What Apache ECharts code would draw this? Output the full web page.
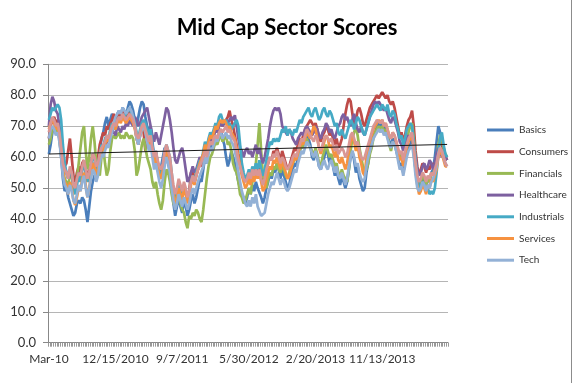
<!DOCTYPE html>
<html><head><meta charset="utf-8">
<script src="https://cdn.jsdelivr.net/npm/echarts@6/dist/echarts.min.js"></script>
<style>html,body{margin:0;padding:0;background:#fff}#c{width:574px;height:383px}</style>
</head><body><div id="c"></div>
<script>
// ---- data ----
const titleText = 'Mid Cap Sector Scores';
const firstLabel = 'Mar-10';
const startDate = [2010, 3, 24]; // weekly observations
const labelEvery = 38;           // a date label every 38 weeks
const yTicks = [0, 10, 20, 30, 40, 50, 60, 70, 80, 90];
const legendNames = ['Basics','Consumers','Financials','Healthcare','Industrials','Services','Tech'];
const trendValues = [61.0, 64.1]; // linear trendline at first / last week

const basics = [
61,64,68,70,69,70,66,60,53,49, 50,47,45,43,41,42,45,46,45,47,
46,43,39,44,49,52,54,55,57,62, 66,68,71,73,70,72,74,73,71,74,
75,73,76,75,73,76,78,77,75,72, 70,73,76,78,77,73,70,68,70,65,
60,62,58,55,57,60,63,62,58,55, 50,45,41,44,47,44,42,46,44,41,
43,46,48,45,47,50,53,52,56,60, 58,62,64,63,65,67,66,68,69,66,
64,60,57,59,62,60,58,55,52,50, 48,47,45,47,50,48,51,49,52,50,
50,47,45,47,50,52,55,53,56,55, 58,56,53,56,54,52,50,51,54,56,
58,57,60,62,64,63,66,68,66,64, 60,59,62,60,57,56,58,60,63,61,
58,60,57,54,56,53,51,54,52,50, 52,56,60,62,59,55,57,53,51,49,
50,55,58,62,65,67,68,70,71,70, 72,69,70,68,65,64,66,65,62,60,
57,58,55,58,62,63,64,66,61,56, 52,50,51,53,52,50,53,52,55,56,
60,65,70,68,65,62,60,59];
const consumers = [
66,70,72,73,71,72,69,64,60,57, 58,62,66,60,54,52,55,57,55,58,
59,56,53,56,58,61,60,58,60,64, 66,68,67,70,69,71,72,74,72,73,
74,73,75,74,73,74,75,74,72,70, 66,64,67,70,68,62,65,64,66,62,
59,61,58,55,54,57,61,63,61,58, 53,49,46,48,51,49,47,51,49,46,
49,55,56,52,54,56,58,57,60,63, 61,64,66,65,67,69,68,70,71,70,
71,72,73,75,72,70,67,64,61,59, 56,54,52,53,55,53,56,54,57,55,
58,54,51,53,56,58,60,59,62,61, 63,61,59,62,60,58,56,57,59,61,
63,62,64,66,65,67,69,70,71,72, 72,70,71,69,66,65,67,68,70,69,
67,68,66,64,66,63,64,66,70,74, 77,79,78,74,70,72,75,76,74,71,
70,72,74,76,77,78,79,80,79,80, 81,80,79,80,78,77,78,76,73,70,
67,68,65,67,70,72,73,75,70,62, 57,54,56,58,57,55,57,56,58,57,
58,60,63,65,64,62,60,59];
const financials = [
64,66,69,70,68,69,66,61,56,53, 52,50,55,54,50,48,53,58,63,68,
70,62,56,60,66,70,65,58,56,54, 60,63,58,54,56,62,66,67,66,67,
68,66,67,66,68,67,66,67,66,62, 54,56,60,64,66,63,60,58,56,52,
50,52,48,45,43,46,52,56,55,52, 48,45,44,46,48,45,43,42,39,37,
41,40,42,41,43,42,40,39,43,48, 53,57,60,61,63,65,64,66,67,65,
66,67,64,65,62,58,56,55,52,48, 47,45,46,48,50,48,52,55,58,64,
71,62,54,52,50,53,55,54,57,56, 58,56,55,57,56,54,53,55,57,58,
59,61,60,62,64,63,65,66,64,63, 62,60,63,61,58,57,60,62,64,62,
60,61,59,57,58,55,54,56,54,53, 52,56,62,66,68,70,67,63,60,57,
55,56,58,61,63,66,68,69,70,69, 70,68,69,67,64,62,65,64,63,61,
60,61,58,61,64,68,70,71,66,59, 54,51,52,54,53,51,53,52,55,54,
57,60,64,67,66,63,61,60];
const healthcare = [
70,77,79.5,78,75,74,70,65,60,57, 55,53,56,54,51,50,53,55,53,56,
58,55,52,54,56,58,57,55,58,60, 62,64,63,65,66,67,69,68,67,70,
69,68,70,69,71,70,72,71,70,73, 72,70,71,73,74,75,76,73,70,67,
65,68,66,64,67,70,73,76,75,72, 68,63,59,58,60,62,63,60,56,52,
53,55,57,55,56,58,60,59,61,63, 62,64,66,65,67,69,68,70,71,70,
71,72,71,72,73,72,73.5,70,66,63, 62,60,62,63,61,62,60,62,64,61,
63,60,58,60,63,66,70,73,75,76, 75,76,74,70,69,68,67,69,68,66,
65,64,66,67,68,67,69,70,69,68, 67,68,70,69,67,66,68,69,71,70,
68,69,67,66,68,70,71,73,74,72, 73,71,70,72,74,71,69,68,70,68,
67,69,71,73,75,77,78,77,78,77, 76,75,76,74,72,71,73,72,70,68,
65,64,62,64,66,67,66,68,64,60, 56,54,55,57,58,56,57,59,58,56,
58,61,63,62,60,62,60,59];
const industrials = [
72,74,76,75,76,77,76,72,64,58, 55,53,56,55,50,48,51,54,52,56,
58,55,52,54,57,61,59,56,57,61, 64,63,66,67,66,69,71,70,69,72,
73,72,74,73,74,75,76,74,73,71, 68,66,69,71,72,71,69,67,69,64,
60,62,58,55,54,57,62,64,62,60, 55,49,46,48,51,49,47,51,49,46,
48,52,54,52,55,57,59,58,62,65, 63,66,68,67,69,71,70,73,74,72,
71,72,70,71,69,70,71,72,70,64, 58,55,53,54,56,54,57,55,58,56,
59,56,54,56,59,62,65,64,66,65, 66,65,67,69,68,70,67,69,68,67,
69,68,70,72,71,73,74,75,76,74, 73,75,76,74,72,73,75,76,74,73,
75,74,72,70,71,68,67,69,67,66, 68,70,72,71,69,71,73,72,70,68,
67,69,71,73,74,75,76,77,76,75, 77,76,75,77,74,73,75,74,71,69,
66,67,64,66,69,70,71,70,65,59, 54,51,50,52,51,49,50,48,49,48,
50,55,61,66,68,64,61,60];
const services = [
69,71,72,71,69,70,67,62,56,52, 51,48,52,50,46,44.5,47,50,49,53,
55,51,47,50,54,58,57,54,56,60, 63,62,64,66,65,67,69,70,69,71,
72,71,73,72,71,72,73,72,71,69, 66,64,67,69,70,68,66,64,66,62,
58,60,57,54,53,56,60,62,60,58, 53,48,45,47,50,48,46,50,48,45,
47,51,53,51,54,56,58,58,61,64, 62,65,67,66,68,70,69,71,72,71,
72,71,69,70,68,67,66,63,60,57, 54,52,50,51,53,51,54,52,55,53,
55,52,49,50,53,55,57,56,59,58, 60,58,56,59,57,55,53,54,56,58,
60,59,61,63,65,64,66,68,67,66, 68,70,69,66,63,61,63,65,67,66,
63,64,62,60,62,59,58,60,58,56, 58,62,65,67,65,62,64,60,58,55,
54,60,63,65,67,69,70,71,72,71, 72,70,71,69,67,66,68,67,65,62,
59,60,57,60,63,65,66,67,62,56, 51,48,49,51,50,48,51,50,53,52,
54,56,60,62,61,59,57,57];
const tech = [
66,69,70,69,67,68,65,60,54,51, 50,48,51,49,46,45,48,51,49,52,
54,50,47,50,53,56,55,52,54,58, 61,60,62,64,63,66,68,71,73,74,
75,74,76,75,74,75,76,75,73,70, 66,64,67,69,70,68,65,62,64,60,
56,58,55,52,50,53,57,60,58,55, 50,46,43,45,48,46,44,47,45,43,
45,48,50,48,50,52,54,54,57,60, 58,61,63,62,64,66,65,67,68,66,
67,68,66,67,65,64,62,59,55,52, 49,47,45,44,46,44,47,45,48,44,
44,41,41,42,45,48,50,52,51,53, 55,53,51,53,52,50,49,50,52,54,
56,55,58,60,62,61,63,65,64,63, 61,60,62,60,57,56,58,59,57,56,
58,59,57,55,57,54,53,55,53,51, 53,57,60,62,60,57,58,55,53,52,
53,57,60,62,64,66,67,68,69,68, 69,67,68,66,64,63,65,64,62,59,
56,57,54,57,60,62,63,64,60,54, 50,49,50,52,51,49,51,50,52,53,
55,57,61,63,62,60,58,57];
const midCap = [ // 8th (unlabelled) series
68,71,73,72,70,71,68,63,58,56, 55,53,57,55,51,50,53,55,54,57,
59,56,53,55,58,61,60,57,58,61, 63,63,65,67,66,68,70,71,70,72,
73,72,74,73,72,73,74,73,72,70, 67,66,68,70,71,69,67,65,67,63,
60,62,59,57,56,58,62,64,62,60, 55,51,48,50,53,51,49,52,50,47,
49,52,54,52,54,56,57,57,60,62, 60,63,65,64,66,67,66,68,69,68,
69,70,68,69,67,66,65,62,59,57, 55,53,52,53,55,53,56,54,56,54,
56,53,51,53,56,58,60,59,61,60, 62,60,58,60,59,57,56,57,58,60,
61,60,62,64,66,65,67,69,68,67, 66,65,67,66,63,62,64,66,67,66,
65,66,64,62,64,61,61,63,62,60, 61,64,67,68,66,64,65,62,60,59,
60,62,64,66,68,70,71,72,72,71, 72,70,71,69,67,66,68,67,65,63,
61,62,59,62,64,66,67,68,63,58, 54,52,53,55,54,52,54,53,55,54,
56,58,61,63,62,60,58,57];

// ---- build ----
const N = basics.length;
const categories = [];
for (let i = 0; i < N; i++) {
  const d = new Date(Date.UTC(startDate[0], startDate[1] - 1, startDate[2] + 7 * i));
  categories.push(i === 0 ? firstLabel : (d.getUTCMonth() + 1) + '/' + d.getUTCDate() + '/' + d.getUTCFullYear());
}
const colors = ['#4A7EBB','#BE4B48','#98B954','#7D60A0','#46AAC5','#F69240','#93B1D6','#D99694'];
const allData = [basics, consumers, financials, healthcare, industrials, services, tech, midCap];
const names = legendNames.concat(['Mid Cap']);
const FONT = 'Lato, "Open Sans", sans-serif';

const series = allData.map((d, k) => ({
  name: names[k], type: 'line', data: d, symbol: 'none', smooth: false,
  lineStyle: { width: 2.7, color: colors[k] }, itemStyle: { color: colors[k] },
  silent: true, animation: false
}));
series.push({
  name: 'trend', type: 'line', symbol: 'none', silent: true, animation: false, z: 5,
  data: [[0, trendValues[0]], [N - 1, trendValues[1]]],
  lineStyle: { width: 1, color: '#1a1a1a' }
});

const chart = echarts.init(document.getElementById('c'), null, { renderer: 'canvas' });
chart.setOption({
  animation: false,
  backgroundColor: '#fff',
  color: colors,
  title: { text: titleText, left: 'center', top: 12,
    textStyle: { fontFamily: FONT, fontSize: 22, fontWeight: 'bold', color: '#000' } },
  legend: {
    data: legendNames, orient: 'vertical', left: 482, top: 119, itemGap: 9.7,
    itemWidth: 27, itemHeight: 3, icon: 'rect',
    textStyle: { fontFamily: FONT, fontSize: 10, color: '#333', lineHeight: 12 }
  },
  grid: { left: 48, right: 126, top: 64.3, bottom: 40.3, containLabel: false },
  xAxis: {
    type: 'category', data: categories, boundaryGap: true,
    axisLine: { lineStyle: { color: '#888', width: 1 } },
    axisTick: { show: true, interval: 0, length: 4, lineStyle: { color: '#999' } },
    axisLabel: { interval: (i) => i % labelEvery === 0, margin: 10, fontFamily: FONT, fontSize: 12,
      color: '#333', hideOverlap: false },
    splitLine: { show: false }
  },
  yAxis: {
    type: 'value', min: yTicks[0], max: yTicks[yTicks.length - 1], interval: yTicks[1] - yTicks[0],
    axisLine: { show: true, lineStyle: { color: '#888', width: 1 } },
    axisTick: { show: true, length: 5, lineStyle: { color: '#888' } },
    axisLabel: { margin: 12, fontFamily: FONT, fontSize: 13, color: '#333', formatter: v => v.toFixed(1) },
    splitLine: { lineStyle: { color: '#b5b5b5', width: 1 } }
  },
  graphic: [{ type: 'rect', shape: { x: -2, y: -2, width: 573.5, height: 386 },
    style: { fill: 'none', stroke: '#8c8c8c', lineWidth: 1 }, silent: true }],
  series: series
});
</script></body></html>
